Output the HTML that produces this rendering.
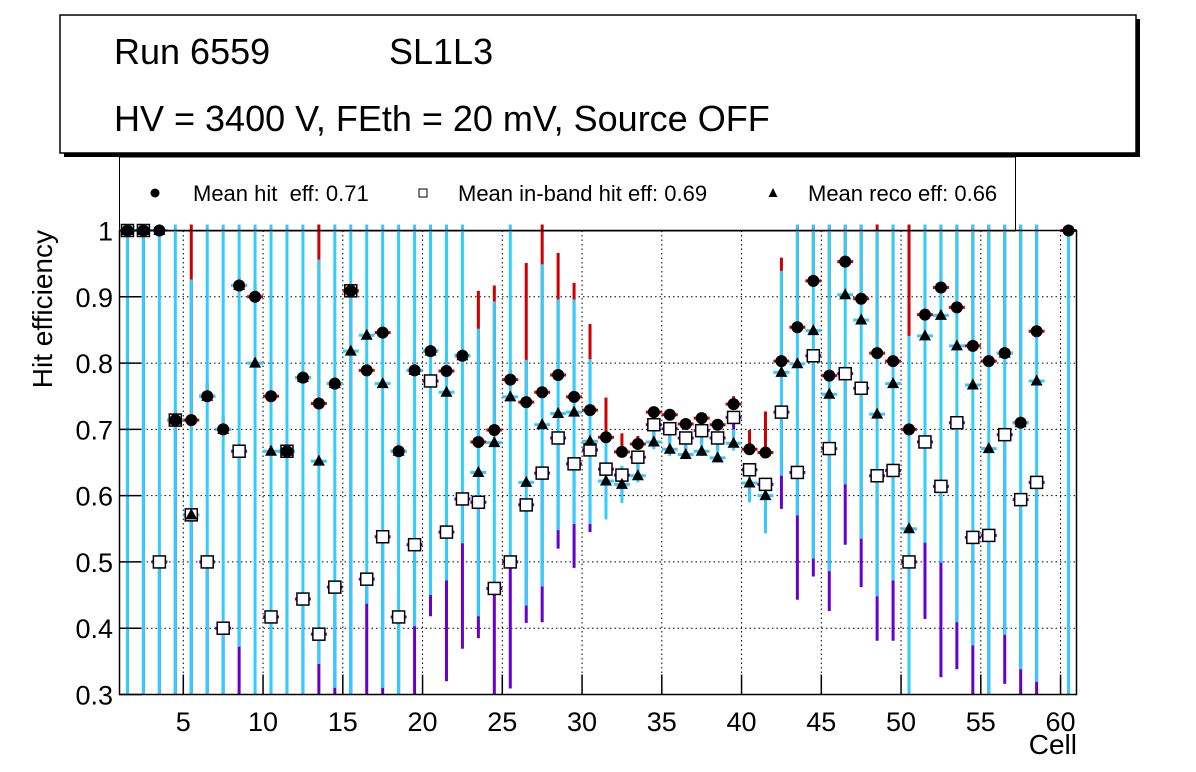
<!DOCTYPE html>
<html><head><meta charset="utf-8"><style>
html,body{margin:0;background:#fff;overflow:hidden;width:1196px;height:772px;}
svg{display:block;font-family:"Liberation Sans",sans-serif;}
</style></head><body>
<svg id="chart" width="1196" height="772" viewBox="0 0 1196 772">
<rect x="0" y="0" width="1196" height="772" fill="#fff"/>
<g>
<rect x="64" y="19" width="1076" height="138" fill="#000"/>
<rect x="60" y="15" width="1076" height="138" fill="#fff" stroke="#000" stroke-width="1.5"/>
<text x="114" y="64" font-size="36">Run 6559</text>
<text x="389" y="64" font-size="36">SL1L3</text>
<text x="114" y="131" font-size="36">HV = 3400 V, FEth = 20 mV, Source OFF</text>
</g>
<g>
<rect x="119.5" y="157" width="896" height="74" fill="#fff" stroke="#000" stroke-width="1"/>
<g><circle cx="155" cy="193" r="4.5" fill="#000"/><text x="193" y="201" font-size="22" xml:space="preserve" style="white-space:pre">Mean hit  eff: 0.71</text></g>
<g><rect x="419" y="189" width="8" height="8" fill="#fff" stroke="#000"/><text x="458" y="201" font-size="22">Mean in-band hit eff: 0.69</text></g>
<g><polygon points="773,188 777.5,197 768.5,197" fill="#000"/><text x="808" y="201" font-size="22">Mean reco eff: 0.66</text></g>
</g>
<g id="plot"></g>
</svg>
<script>
const cells=[];for(let i=1;i<=60;i++)cells.push(i+0.5);
const hitEff=[1,1,1,0.714,0.714,0.75,0.7,0.917,0.9,0.75,0.667,0.778,0.739,0.769,0.909,0.789,0.846,0.667,0.789,0.818,0.788,0.811,0.681,0.699,0.775,0.741,0.756,0.782,0.749,0.729,0.688,0.666,0.678,0.726,0.722,0.708,0.717,0.707,0.738,0.670,0.665,0.803,0.854,0.924,0.781,0.953,0.897,0.815,0.803,0.70,0.873,0.914,0.884,0.826,0.803,0.815,0.71,0.848,null,1];
const bandEff=[1,1,0.5,0.714,0.571,0.5,0.4,0.667,0.2,0.417,0.667,0.444,0.391,0.462,0.909,0.474,0.538,0.417,0.526,0.773,0.545,0.595,0.590,0.460,0.500,0.586,0.634,0.687,0.648,0.669,0.640,0.631,0.658,0.707,0.701,0.687,0.698,0.687,0.718,0.639,0.617,0.726,0.635,0.811,0.671,0.784,0.762,0.630,0.638,0.50,0.681,0.614,0.710,0.537,0.540,0.692,0.594,0.620,null,0.1];
const recoEff=[1,1,1,0.714,0.571,0.75,0.7,0.917,0.8,0.667,0.667,0.778,0.652,0.769,0.818,0.842,0.769,0.667,0.789,0.818,0.756,0.811,0.635,0.680,0.749,0.620,0.707,0.724,0.726,0.682,0.622,0.617,0.630,0.681,0.670,0.662,0.667,0.657,0.679,0.619,0.600,0.786,0.799,0.849,0.753,0.903,0.865,0.723,0.769,0.55,0.841,0.872,0.826,0.767,0.671,0.815,0.71,0.773,null,0.1];
const hitErrHi=[1.1,1.1,1.1,0.73,1.1,0.77,0.72,0.93,0.92,0.77,0.68,0.79,1.1,0.78,0.92,0.80,0.86,0.68,0.80,0.83,0.80,0.82,0.909,0.917,0.79,0.951,1.1,0.966,0.921,0.859,0.748,0.694,0.69,0.734,0.73,0.715,0.725,0.715,0.750,0.699,0.727,0.959,1.1,1.1,1.1,1.1,1.1,1.1,1.1,1.1,1.1,1.1,1.1,1.1,1.1,1.1,1.1,1.1,null,1.1];
const bandErrLo=[0.2,0.2,0.2,0.2,0.2,0.2,0.2,0.2,0.2,0.2,0.2,0.2,0.2,0.2,0.2,0.2,0.2,0.2,0.2,0.418,0.320,0.369,0.385,0.2,0.309,0.408,0.409,0.520,0.491,0.545,0.60,0.60,0.63,0.68,0.68,0.67,0.68,0.67,0.69,0.60,0.55,0.580,0.443,0.478,0.426,0.526,0.462,0.381,0.381,0.2,0.414,0.326,0.338,0.2,0.2,0.316,0.2,0.2,null,0.2];
const recoErrLo=[0.2,0.2,0.2,0.2,0.2,0.2,0.2,0.372,0.2,0.2,0.2,0.2,0.346,0.31,0.2,0.437,0.31,0.2,0.403,0.45,0.472,0.528,0.418,0.467,0.492,0.434,0.463,0.548,0.557,0.557,0.564,0.589,0.62,0.670,0.66,0.655,0.66,0.65,0.668,0.590,0.543,0.630,0.570,0.505,0.486,0.617,0.535,0.448,0.472,0.2,0.529,0.499,0.409,0.374,0.2,0.390,0.338,0.319,null,0.2];
const recoErrHi=[1.1,1.1,1.1,1.1,0.926,1.1,1.1,1.1,1.1,1.1,1.1,1.1,0.956,1.1,1.1,1.1,1.1,1.1,1.1,1.1,1.1,1.1,0.852,0.893,1.1,0.805,0.949,0.896,0.896,0.806,0.694,0.645,0.668,0.714,0.71,0.69,0.70,0.69,0.70,0.64,0.62,0.939,1.1,1.1,1.1,1.1,1.1,0.999,1.1,0.841,1.1,1.1,1.1,1.1,1.1,1.1,1.1,1.1,null,1.1];
const xTicks=[5,10,15,20,25,30,35,40,45,50,55,60];
const yTicks=[0.3,0.4,0.5,0.6,0.7,0.8,0.9,1];

const NS="http://www.w3.org/2000/svg";
const L=119.5,R=1076.5,T=230.5,B=694.5,X0=1,X1=61,Y0=0.3,Y1=1;
const xs=v=>L+(v-X0)/(X1-X0)*(R-L);
const ys=v=>B-(v-Y0)/(Y1-Y0)*(B-T);
const plot=document.getElementById('plot');
function mk(tag,attrs,parent){const e=document.createElementNS(NS,tag);for(const k in attrs)e.setAttribute(k,attrs[k]);(parent||plot).appendChild(e);return e;}
const defs=mk('defs',{});const cp=mk('clipPath',{id:'clip'},defs);mk('rect',{x:L,y:T-6,width:R-L,height:B-T+6},cp);

const grid=mk('g',{});


xTicks.forEach(t=>{const l=mk('line',{x1:xs(t),x2:xs(t),y1:T,y2:B,stroke:'#000','stroke-dasharray':'1.5,3','stroke-width':1},grid);

});
yTicks.forEach(t=>{const l=mk('line',{x1:L,x2:R,y1:ys(t),y2:ys(t),stroke:'#000','stroke-dasharray':'1.5,3','stroke-width':1},grid);

});

const errs=mk('g',{'clip-path':'url(#clip)'});


const marks=mk('g',{});


const hw=(R-L)/(X1-X0)*0.5;
cells.forEach((c,i)=>{
  if(hitEff[i]==null)return;
  const x=xs(c);
  const r=mk('line',{x1:x,x2:x,y1:ys(hitEff[i]),y2:ys(hitErrHi[i]),stroke:'#cc0000','stroke-width':3},errs);
  
  
  const p=mk('line',{x1:x,x2:x,y1:ys(bandEff[i]),y2:ys(bandErrLo[i]),stroke:'#6600cc','stroke-width':3},errs);
  
  
  const cy=mk('line',{x1:x,x2:x,y1:ys(recoErrLo[i]),y2:ys(recoErrHi[i]),stroke:'#33ccff','stroke-width':3},errs);
  
  
  [[bandEff[i],'#6600cc'],[hitEff[i],'#cc0000'],[recoEff[i],'#33ccff']].forEach(([v,col])=>{
    if(v<Y0||v>Y1)return;
    const h=mk('line',{x1:x-hw,x2:x+hw,y1:ys(v),y2:ys(v),stroke:col,'stroke-width':3},errs);
    
    
  });
});
cells.forEach((c,i)=>{
  if(hitEff[i]==null)return;
  const x=xs(c);
  if(bandEff[i]>=Y0&&bandEff[i]<=Y1){
    const s=mk('rect',{x:x-6,y:ys(bandEff[i])-6,width:12,height:12,fill:'#fff',stroke:'#000','stroke-width':1.5},marks);
    
    
  }
  if(recoEff[i]>=Y0&&recoEff[i]<=Y1){
    const y=ys(recoEff[i]);
    const t=mk('polygon',{points:`${x},${y-6.5} ${x+6},${y+4.5} ${x-6},${y+4.5}`,fill:'#000'},marks);
    
    
  }
  if(hitEff[i]>=Y0&&hitEff[i]<=Y1){
    const ci=mk('circle',{cx:x,cy:ys(hitEff[i]),r:6,fill:'#000'},marks);
    
    
  }
});

const axes=mk('g',{});


mk('rect',{x:L,y:T,width:R-L,height:B-T,fill:'none',stroke:'#000','stroke-width':1.5},axes);
xTicks.forEach(t=>{
  mk('line',{x1:xs(t),x2:xs(t),y1:B,y2:B-20,stroke:'#000','stroke-width':1.5},axes);
  const tx=mk('text',{x:xs(t),y:731,'font-size':27,'text-anchor':'middle'},axes);tx.textContent=t;
  
  
});
yTicks.forEach(t=>{
  mk('line',{x1:L,x2:L+22,y1:ys(t),y2:ys(t),stroke:'#000','stroke-width':1.5},axes);
  const tx=mk('text',{x:113,y:ys(t)+10,'font-size':27,'text-anchor':'end'},axes);tx.textContent=(t===1?'1':t.toFixed(1));
  
  
});
const xt=mk('text',{x:1077,y:754,'font-size':28,'text-anchor':'end'},axes);xt.textContent='Cell';


const yt=mk('text',{x:0,y:0,'font-size':28,'text-anchor':'end',transform:'translate(52,230) rotate(-90)'},axes);yt.textContent='Hit efficiency';


</script>
</body></html>
